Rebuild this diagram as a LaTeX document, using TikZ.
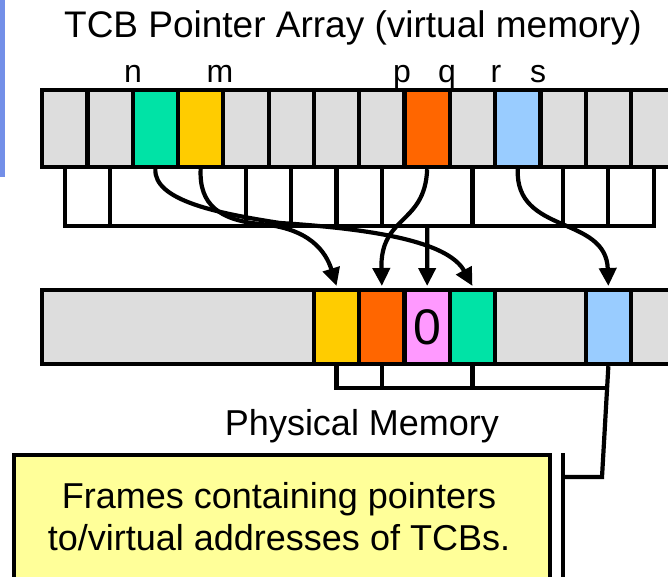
\documentclass[tikz,border=0pt]{standalone}
\usepackage{fontspec}
\setmainfont{Liberation Sans}
\usetikzlibrary{arrows.meta}
\definecolor{cellgray}{HTML}{DDDDDD}
\definecolor{cgreen}{HTML}{00E3A6}
\definecolor{cyellow}{HTML}{FFCC00}
\definecolor{corange}{HTML}{FF6600}
\definecolor{cblue}{HTML}{99CCFF}
\definecolor{cpink}{HTML}{FF99FF}
\definecolor{notefill}{HTML}{FFFF99}
\definecolor{sidebar}{RGB}{115,143,232}
\begin{document}
\begin{tikzpicture}[x=1pt,y=-1pt,
  cell/.style={draw=black, line width=4.2pt, inner sep=0pt, minimum height=77pt, minimum width=45.3pt, anchor=north west},
  pcell/.style={draw=black, line width=4.2pt, inner sep=0pt, minimum height=74pt, anchor=north west, fill=cellgray},
  wire/.style={line width=4.2pt},
  ptr/.style={line width=4.2pt, -{Triangle[length=18pt,width=17pt]}},
  lbl/.style={font=\fontsize{32}{38}\selectfont, anchor=base, inner sep=0pt},
  txt/.style={font=\fontsize{36}{43}\selectfont, anchor=base, inner sep=0pt},
]
\clip (0,0) rectangle (668,577);
\fill[white] (0,0) rectangle (668,577);
\fill[sidebar] (0,0) rectangle (5,177);

\node[txt, font=\fontsize{37}{44}\selectfont] (title) at (353,38) {TCB Pointer Array (virtual memory)};

% top array
\foreach \i/\c in {1/cellgray,2/cellgray,3/cgreen,4/cyellow,5/cellgray,6/cellgray,7/cellgray,8/cellgray,9/corange,10/cellgray,11/cblue,12/cellgray,13/cellgray,14/cellgray}
  \node[cell, fill=\c] (v\i) at ({40+45.3*(\i-1)},88) {};

\node[lbl] (ln) at (133,83) {n};
\node[lbl] (lm) at (220,83) {m};
\node[lbl] (lp) at (402,83) {p};
\node[lbl] (lq) at (447,83) {q};
\node[lbl] (lr) at (496,83) {r};
\node[lbl] (ls) at (538,83) {s};

% white boxes under the array
\coordinate (wb) at (0,226);
\draw[wire, line join=miter] (v1.south) -- (v1.south |- wb) -- (v14.south |- wb) -- (v14.south);
\foreach \i in {2,5,6,7,8,10,12,13}
  \draw[wire] (v\i.south) -- (v\i.south |- wb);

% physical memory
\node[pcell, minimum width=271.8pt] (ph1) at (40,288) {};
\node[pcell, minimum width=45.3pt, fill=cyellow] (ph2) at (311.8,288) {};
\node[pcell, minimum width=45.3pt, fill=corange] (ph3) at (357.1,288) {};
\node[pcell, minimum width=45.3pt, fill=cpink, font=\fontsize{50}{60}\selectfont] (ph4) at (402.4,288) {0};
\node[pcell, minimum width=45.3pt, fill=cgreen] (ph5) at (447.7,288) {};
\node[pcell, minimum width=90.6pt] (ph6) at (493,288) {};
\node[pcell, minimum width=45.3pt, fill=cblue] (ph7) at (583.6,288) {};
\node[pcell, minimum width=80pt] (ph8) at (628.9,288) {};

% pointers
\draw[ptr] (v3.south) .. controls (154,200) and (215,213) .. (280,223) .. controls (390,230) and (450,245) .. ([yshift=2pt]ph5.north);
\draw[ptr] (v4.south) .. controls (199,205) and (220,220) .. (260,224) .. controls (310,228) and (326,252) .. ([yshift=2pt]ph2.north);
\draw[ptr] (v9.south) .. controls (425,225) and (380,215) .. ([yshift=2pt]ph3.north);
\draw[ptr] (v9.south |- wb) -- ([yshift=2pt]ph4.north);
\draw[ptr] (v11.south) .. controls (515,235) and (606,215) .. ([yshift=2pt]ph7.north);

% bracket under physical memory
\coordinate (bk) at (0,388);
\coordinate (elbow) at (602,477);
\coordinate (tickc) at (563,477);
\coordinate (tickt) at (563,453);
\coordinate (tickb) at (563,585);
\draw[wire, line join=miter] (ph2.south) -- (ph2.south |- bk) -- (ph7.south |- bk);
\draw[wire] (ph3.south) -- (ph3.south |- bk);
\draw[wire] (ph5.south) -- (ph5.south |- bk);
\draw[wire, line join=miter] (ph7.south) -- (elbow) -- (tickc);
\draw[wire] (tickt) -- (tickb);

\node[txt] (physlbl) at (362,435) {Physical Memory};

% note box
\node[draw=black, line width=4.2pt, fill=notefill, anchor=north west, minimum width=536pt, minimum height=150pt, inner sep=0pt] (note) at (12,453) {};
\node[txt] (notel1) at (279,508) {Frames containing pointers};
\node[txt] (notel2) at (279,550) {to/virtual addresses of TCBs.};
\end{tikzpicture}
\end{document}
